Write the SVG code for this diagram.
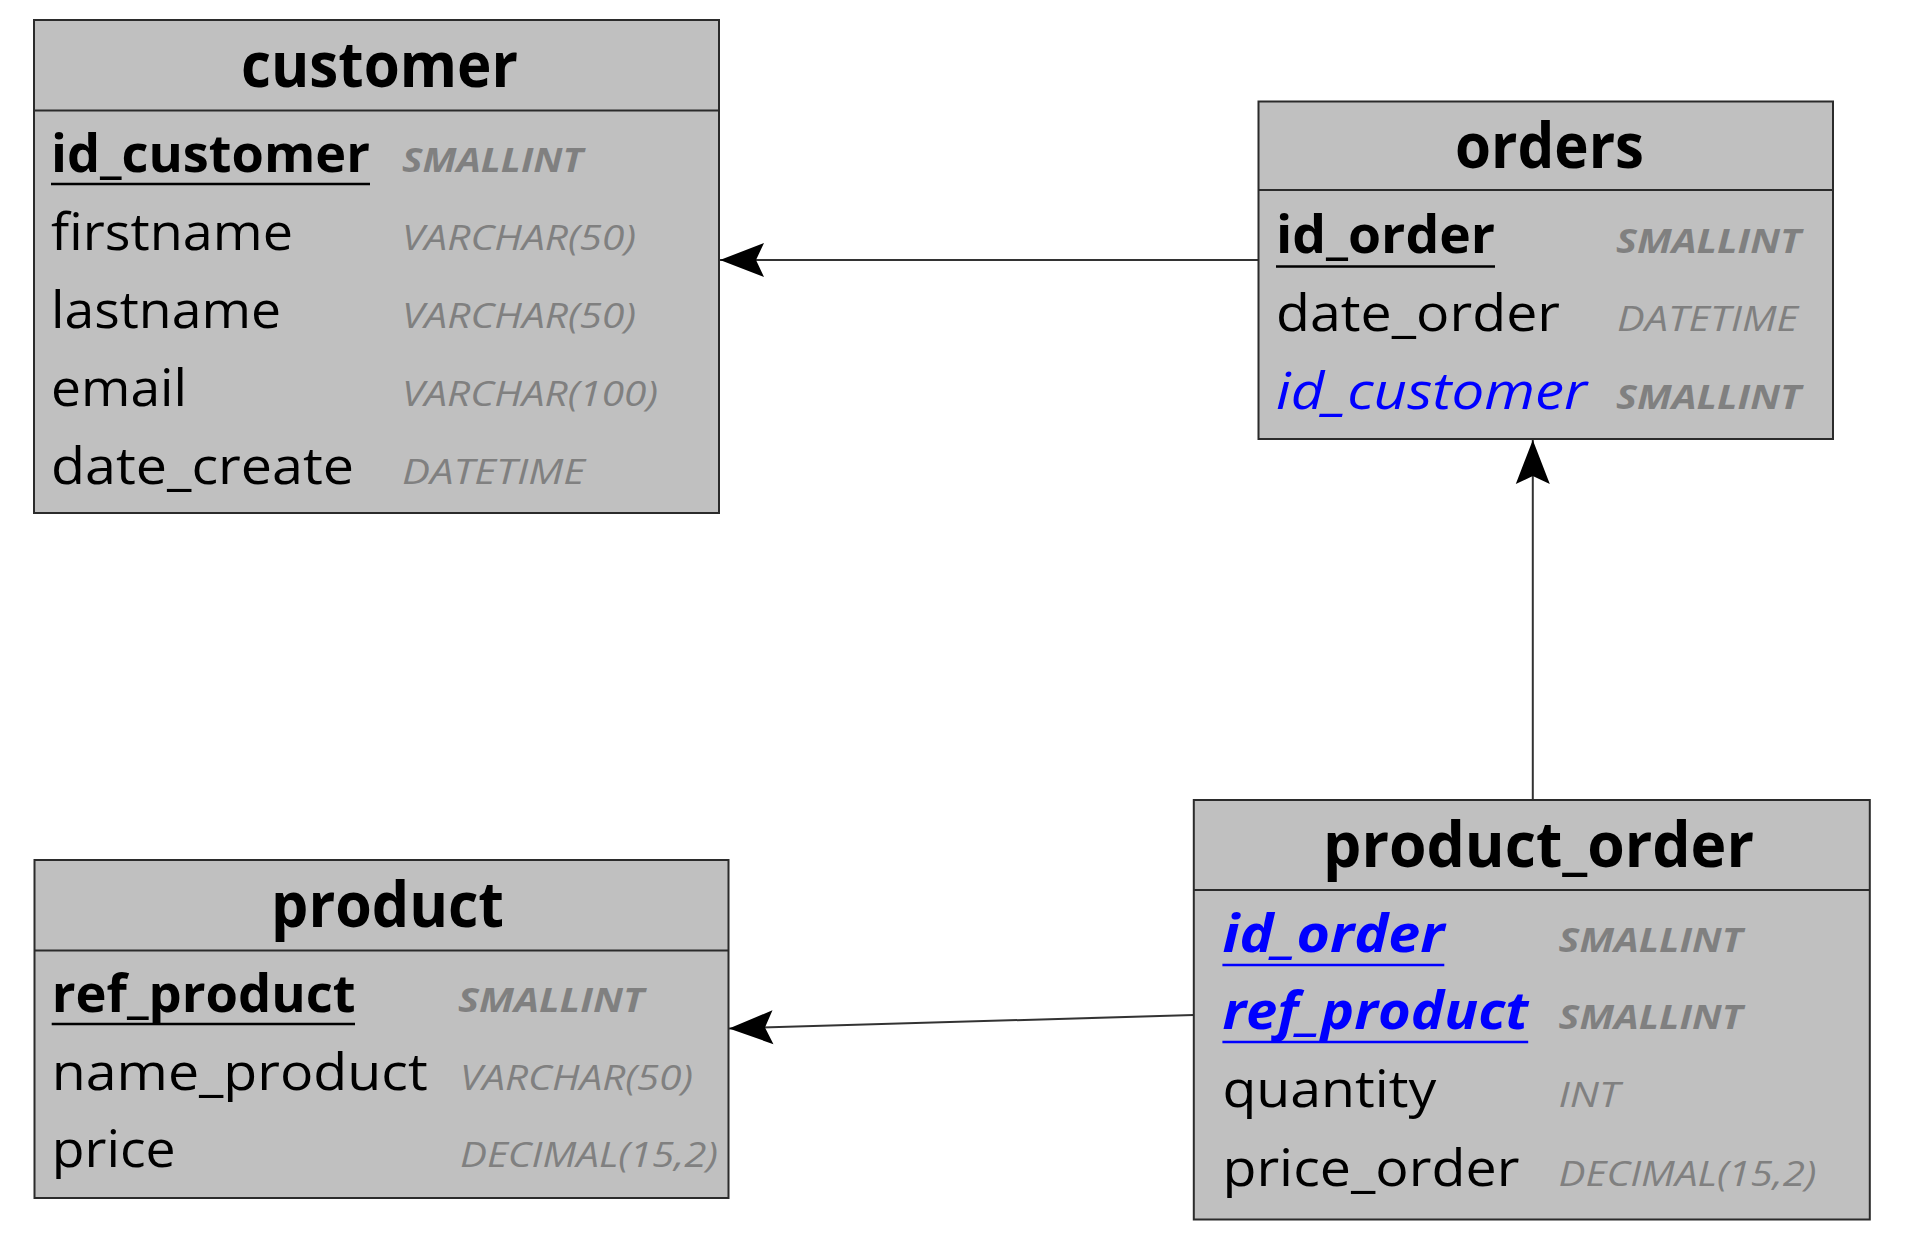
<svg xmlns="http://www.w3.org/2000/svg" width="1912" height="1240" viewBox="0 0 1912 1240">
<style>
.bg{fill:#ffffff}
.box{fill:#c0c0c0;stroke:#2b2b2b;stroke-width:2}
.sep{stroke:#2b2b2b;stroke-width:2}
text{font-family:"Open Sans","Noto Sans","DejaVu Sans",sans-serif}
.title{font-size:62px;font-weight:bold;fill:#000}
.name{font-size:52px;fill:#000}
.pk{font-weight:bold}
.fk{fill:#0000ff;font-style:italic}
.type{font-size:34px;font-style:italic;fill:#808080}
.tb{font-weight:bold}
.ul{stroke:#000;stroke-width:2.5}
.ulb{stroke:#0000ff;stroke-width:2.5}
.conn{stroke:#333333;stroke-width:2;fill:none}
</style>
<defs>
<marker id="arr" markerUnits="userSpaceOnUse" markerWidth="52" markerHeight="42" viewBox="-48 -21 52 42" refX="0" refY="0" orient="auto">
<path d="M0,0 L-44,-17 L-36,0 L-44,17 Z" fill="#000"/>
</marker>
</defs>
<rect class="bg" x="0" y="0" width="1912" height="1240"/>

<g id="connectors">
<line class="conn" x1="1258.5" y1="260" x2="720" y2="260" marker-end="url(#arr)"/>
<line class="conn" x1="1532.8" y1="800" x2="1532.8" y2="440" marker-end="url(#arr)"/>
<line class="conn" x1="1193.8" y1="1015" x2="729" y2="1028.5" marker-end="url(#arr)"/>
</g>

<g id="customer">
<rect class="box" x="34" y="20" width="685" height="493"/>
<line class="sep" x1="34" y1="110.5" x2="719" y2="110.5"/>
<text class="title" x="241" y="87" textLength="277" lengthAdjust="spacingAndGlyphs">customer</text>
<text class="name pk" x="51" y="172" textLength="319" lengthAdjust="spacingAndGlyphs">id_customer</text>
<line class="ul" x1="51" y1="184" x2="370" y2="184"/>
<text class="type tb" x="402" y="172" textLength="181" lengthAdjust="spacingAndGlyphs">SMALLINT</text>
<text class="name" x="51" y="250" textLength="242" lengthAdjust="spacingAndGlyphs">firstname</text>
<text class="type" x="402" y="250" textLength="234" lengthAdjust="spacingAndGlyphs">VARCHAR(50)</text>
<text class="name" x="51" y="328" textLength="230" lengthAdjust="spacingAndGlyphs">lastname</text>
<text class="type" x="402" y="328" textLength="234" lengthAdjust="spacingAndGlyphs">VARCHAR(50)</text>
<text class="name" x="51" y="406" textLength="136" lengthAdjust="spacingAndGlyphs">email</text>
<text class="type" x="402" y="406" textLength="256" lengthAdjust="spacingAndGlyphs">VARCHAR(100)</text>
<text class="name" x="51" y="484" textLength="303" lengthAdjust="spacingAndGlyphs">date_create</text>
<text class="type" x="402" y="484" textLength="183" lengthAdjust="spacingAndGlyphs">DATETIME</text>
</g>

<g id="orders">
<rect class="box" x="1258.5" y="101.5" width="574.5" height="337.5"/>
<line class="sep" x1="1258.5" y1="190" x2="1833" y2="190"/>
<text class="title" x="1455" y="168" textLength="189" lengthAdjust="spacingAndGlyphs">orders</text>
<text class="name pk" x="1276" y="253" textLength="219" lengthAdjust="spacingAndGlyphs">id_order</text>
<line class="ul" x1="1276" y1="266.5" x2="1495" y2="266.5"/>
<text class="type tb" x="1616" y="253" textLength="185" lengthAdjust="spacingAndGlyphs">SMALLINT</text>
<text class="name" x="1276" y="331" textLength="284" lengthAdjust="spacingAndGlyphs">date_order</text>
<text class="type" x="1617" y="331" textLength="181" lengthAdjust="spacingAndGlyphs">DATETIME</text>
<text class="name fk" x="1276" y="408.5" textLength="311" lengthAdjust="spacingAndGlyphs">id_customer</text>
<text class="type tb" x="1616" y="408.5" textLength="185" lengthAdjust="spacingAndGlyphs">SMALLINT</text>
</g>

<g id="product">
<rect class="box" x="34.5" y="860" width="694" height="338"/>
<line class="sep" x1="34.5" y1="950.5" x2="728.5" y2="950.5"/>
<text class="title" x="271" y="927" textLength="233" lengthAdjust="spacingAndGlyphs">product</text>
<text class="name pk" x="51.7" y="1012" textLength="304" lengthAdjust="spacingAndGlyphs">ref_product</text>
<line class="ul" x1="51.7" y1="1024" x2="355" y2="1024"/>
<text class="type tb" x="458" y="1012" textLength="186" lengthAdjust="spacingAndGlyphs">SMALLINT</text>
<text class="name" x="51.7" y="1090" textLength="376" lengthAdjust="spacingAndGlyphs">name_product</text>
<text class="type" x="460" y="1090" textLength="233" lengthAdjust="spacingAndGlyphs">VARCHAR(50)</text>
<text class="name" x="51.7" y="1167" textLength="124" lengthAdjust="spacingAndGlyphs">price</text>
<text class="type" x="460" y="1167" textLength="258" lengthAdjust="spacingAndGlyphs">DECIMAL(15,2)</text>
</g>

<g id="product_order">
<rect class="box" x="1193.8" y="800" width="676" height="419.5"/>
<line class="sep" x1="1193.8" y1="890" x2="1869.8" y2="890"/>
<text class="title" x="1323" y="867" textLength="431" lengthAdjust="spacingAndGlyphs">product_order</text>
<text class="name pk fk" x="1222.4" y="952" textLength="222" lengthAdjust="spacingAndGlyphs">id_order</text>
<line class="ulb" x1="1222.4" y1="965" x2="1444.3" y2="965"/>
<text class="type tb" x="1558.6" y="952" textLength="184" lengthAdjust="spacingAndGlyphs">SMALLINT</text>
<text class="name pk fk" x="1222.4" y="1029" textLength="306" lengthAdjust="spacingAndGlyphs">ref_product</text>
<line class="ulb" x1="1222.4" y1="1042" x2="1528.2" y2="1042"/>
<text class="type tb" x="1558.6" y="1029" textLength="184" lengthAdjust="spacingAndGlyphs">SMALLINT</text>
<text class="name" x="1222.4" y="1107" textLength="214" lengthAdjust="spacingAndGlyphs">quantity</text>
<text class="type" x="1558.6" y="1107" textLength="61" lengthAdjust="spacingAndGlyphs">INT</text>
<text class="name" x="1222.4" y="1186" textLength="297" lengthAdjust="spacingAndGlyphs">price_order</text>
<text class="type" x="1558.6" y="1186" textLength="258" lengthAdjust="spacingAndGlyphs">DECIMAL(15,2)</text>
</g>
</svg>
